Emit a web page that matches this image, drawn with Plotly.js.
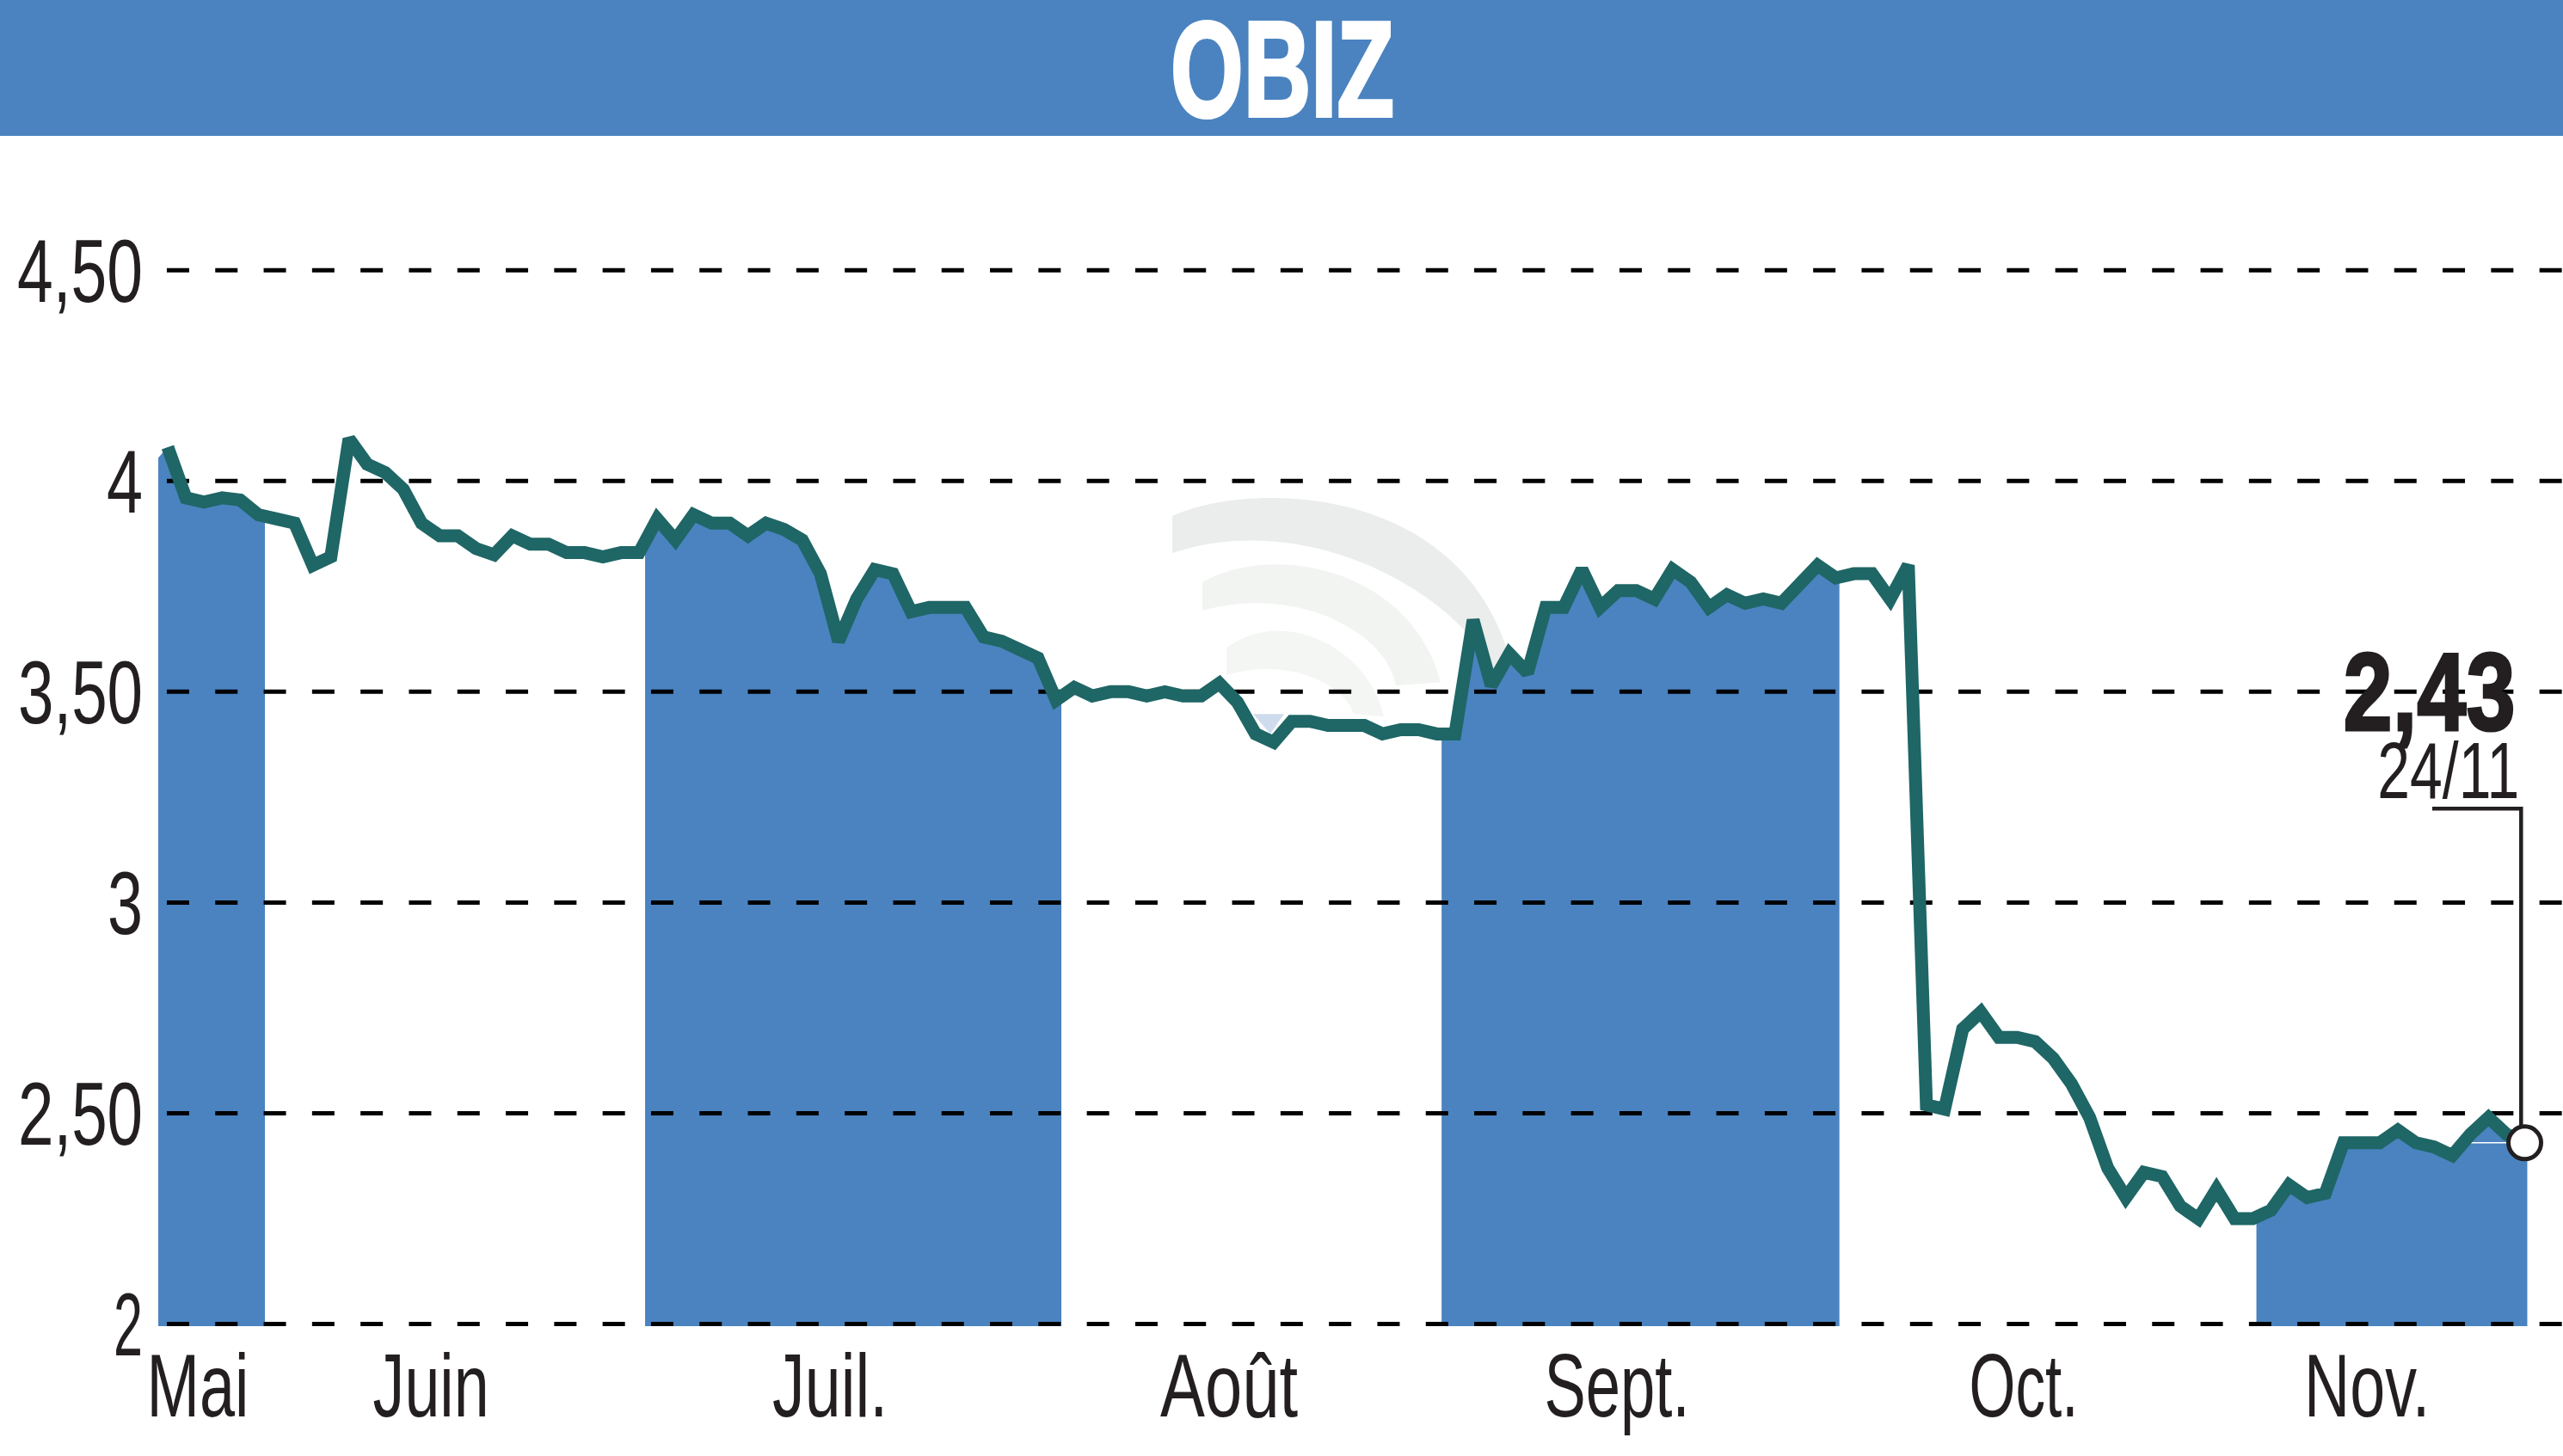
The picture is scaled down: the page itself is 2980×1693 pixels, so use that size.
<!DOCTYPE html>
<html><head><meta charset="utf-8">
<script src="https://cdn.plot.ly/plotly-3.0.1.min.js"></script>
<style>html,body{margin:0;padding:0;background:#fff}</style>
</head><body><div id="c" style="width:2980px;height:1693px"></div>
<script>
const title = 'OBIZ';
const prices = [
4.08,3.96,3.95,3.96,3.955,3.92,3.91,3.90,3.80,3.82,4.10,4.04,4.02,3.98,3.90,3.87,3.87,3.84,3.825,3.87,3.85,3.85,3.83,3.83,
3.82,3.83,3.83,3.91,3.86,3.92,3.90,3.90,3.87,3.90,3.885,3.86,3.78,3.62,3.72,3.79,3.78,3.69,3.70,3.70,3.70,3.63,3.62,3.60,
3.58,3.48,3.51,3.49,3.50,3.50,3.49,3.50,3.49,3.49,3.52,3.475,3.40,3.38,3.43,3.43,3.42,3.42,3.42,3.40,3.41,3.41,3.40,3.40,
3.67,3.515,3.59,3.545,3.70,3.70,3.79,3.70,3.74,3.74,3.72,3.79,3.76,3.70,3.73,3.71,3.72,3.71,3.76,3.80,3.77,3.78,3.78,3.72,3.80,
2.52,2.51,2.70,2.74,2.68,2.68,2.67,2.63,2.57,2.49,2.37,2.30,2.36,2.35,2.28,2.25,2.32,2.25,2.25,2.27,2.33,2.30,2.31,2.43,2.43,2.43,2.46,2.43,2.42,2.40,2.45,2.49,2.45,2.43];
const days = prices.map((_, i) => i);
const monthLabels = ['Mai','Juin','Juil.','Août','Sept.','Oct.','Nov.'];
const monthLabelPos = [1.66,14.52,36.53,58.54,79.93,102.37,121.3];
const shadedMonths = [[-0.52,5.36],[26.33,49.29],[70.26,92.2],[115.2,130.14]];
const firstBandTop = 4.055;
const yTicks = [2,2.5,3,3.5,4,4.5];
const yTickLabels = ['2','2,50','3','3,50','4','4,50'];
const lastValueText = '2,43';
const lastDateText = '24/11';
const leaderStartDay = 124.9, leaderDay = 129.8, leaderLevel = 3.223;
// condensed look: rendered width of each text, in pixels
const textWidths = {'Mai':119,'Juin':135,'Juil.':134,'Août':160,'Sept.':169,'Oct.':127,'Nov.':146,
  '2':34,'2,50':145,'3':41,'3,50':145,'4':42,'4,50':146,'OBIZ':260,'2,43':200,'24/11':165};

const W = 2980, H = 1693;
const mL = 184, mT = 200, mB = 1693 - 1541.7;
const xRange = [-0.522, 132.11];
const yRange = [1.9951, 4.733];
const pw = W - mL, ph = H - mT - mB;
const BLUE = '#4a83c0', GREEN = '#1f6666', INK = '#231f20';
const FONT = '"Liberation Sans",sans-serif';
const px = x => (x - mL) / pw, py = y => 1 - (y - mT) / ph;
const valAt = d => {
  if (d <= 0) return firstBandTop;
  if (d >= prices.length - 1) return prices[prices.length - 1];
  const i = Math.floor(d), f = d - i;
  return prices[i] + (prices[i + 1] - prices[i]) * f;
};
const traces = [];
shadedMonths.forEach(([a, b]) => {
  const xs = [a], ys = [valAt(a)];
  days.forEach(d => { if (d > a && d < b) { xs.push(d); ys.push(prices[d]); } });
  xs.push(b); ys.push(valAt(b));
  traces.push({x: xs, y: ys, mode: 'lines', line: {width: 0, color: BLUE}, fill: 'tozeroy', fillcolor: BLUE});
});
yTicks.forEach(t => traces.push({x: [-0.05, xRange[1]], y: [t, t], mode: 'lines', cliponaxis: false,
  line: {color: '#000', width: 5, dash: '26px,30.3px'}}));
traces.push({x: [126, 130], y: [2.43, 2.43], mode: 'lines', line: {color: '#fff', width: 1.5}});
traces.push({x: days, y: prices, mode: 'lines', line: {color: GREEN, width: 15}});
traces.push({x: [leaderStartDay, leaderDay, leaderDay], y: [leaderLevel, leaderLevel, 2.47], mode: 'lines', line: {color: INK, width: 4.5}});
traces.push({x: [days[days.length - 1]], y: [prices[prices.length - 1]], mode: 'markers', cliponaxis: false,
  marker: {size: 38, color: '#fff', line: {color: INK, width: 5}}});

const P = (x, y) => px(x).toFixed(5) + ',' + py(y).toFixed(5);
function arc(o, color) {
  const s = 'M' + P(o[0][0], o[0][1]) + ' C' + P(o[1][0], o[1][1]) + ' ' + P(o[2][0], o[2][1]) + ' ' + P(o[3][0], o[3][1]) +
    ' L' + P(o[4][0], o[4][1]) + ' C' + P(o[5][0], o[5][1]) + ' ' + P(o[6][0], o[6][1]) + ' ' + P(o[7][0], o[7][1]) + ' Z';
  return {type: 'path', xref: 'paper', yref: 'paper', layer: 'below', line: {width: 0}, fillcolor: color, path: s};
}
const shapes = [
  {type: 'rect', xref: 'paper', yref: 'paper', x0: px(0), x1: px(W), y0: py(158), y1: py(0), line: {width: 0}, fillcolor: BLUE, layer: 'below'},
  arc([[1363,600],[1450,560],[1690,560],[1753,757],[1742,790],[1700,690],[1520,590],[1363,643]], '#ebecec'),
  arc([[1398,677],[1480,630],[1640,660],[1675,793],[1623,797],[1610,730],[1500,680],[1398,710]], '#f2f4f2'),
  arc([[1426,753],[1490,705],[1590,750],[1609,833],[1574,830],[1560,790],[1490,765],[1426,785]], '#f4f6f4'),
  {type: 'path', xref: 'paper', yref: 'paper', layer: 'below', line: {width: 0}, fillcolor: '#cfdcee',
   path: 'M' + P(1457,830) + ' L' + P(1493,830) + ' L' + P(1477,853) + ' Z'}
];
const annotations = [
  {xref: 'paper', yref: 'paper', x: px(2824), y: py(804), xanchor: 'center', yanchor: 'middle', text: lastValueText, showarrow: false,
   font: {family: FONT, size: 128, color: INK, weight: 'bold'}},
  {xref: 'paper', yref: 'paper', x: px(2846.5), y: py(896), xanchor: 'center', yanchor: 'middle', text: lastDateText, showarrow: false,
   font: {family: FONT, size: 92, color: INK}}
];
const layout = {
  width: W, height: H, showlegend: false, hovermode: false,
  margin: {l: mL, r: 0, t: mT, b: mB, pad: 0},
  paper_bgcolor: '#fff', plot_bgcolor: 'rgba(0,0,0,0)',
  title: {text: title, font: {family: FONT, size: 158, color: '#fff', weight: 'bold'}, x: 1491 / W, xanchor: 'center', xref: 'container', yref: 'container', y: 1 - 80 / H, yanchor: 'middle'},
  xaxis: {range: xRange, tickmode: 'array', tickvals: monthLabelPos, ticktext: monthLabels, showgrid: false, zeroline: false, showline: false,
    ticks: '', ticklabelstandoff: 0, tickfont: {family: FONT, size: 104, color: INK}, automargin: false},
  yaxis: {range: yRange, tickmode: 'array', tickvals: yTicks, ticktext: yTickLabels, showgrid: false, zeroline: false, showline: false,
    ticks: '', ticklabelstandoff: 17, tickfont: {family: FONT, size: 104, color: INK}, automargin: false},
  shapes, annotations
};
Plotly.newPlot('c', traces, layout, {displayModeBar: false, staticPlot: true}).then(() => {
  document.querySelectorAll('.xtick text, .ytick text, .gtitle, .annotation-text').forEach(t => {
    const s = t.textContent.trim(), w = textWidths[s];
    if (w) { t.setAttribute('textLength', w); t.setAttribute('lengthAdjust', 'spacingAndGlyphs'); }
    if (s === title) { t.style.stroke = '#fff'; t.style.strokeWidth = '4px'; }
    if (s === lastValueText) { t.style.stroke = INK; t.style.strokeWidth = '3px'; }
  });
});
</script></body></html>
